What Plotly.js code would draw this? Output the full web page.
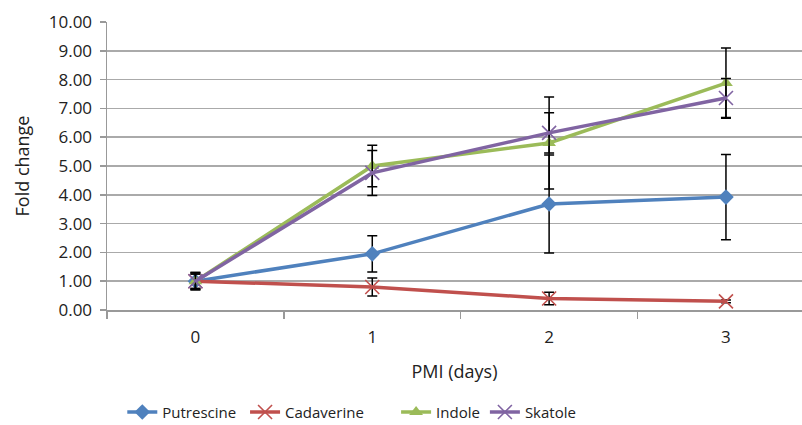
<!DOCTYPE html>
<html>
<head>
<meta charset="utf-8">
<script src="https://cdn.plot.ly/plotly-3.0.1.min.js"></script>
<style>html,body{margin:0;padding:0;background:#fff;}#chart{width:802px;height:425px;}</style>
</head>
<body>
<div id="chart"></div>
<script>
const days = ['0', '1', '2', '3'];
const putrescine = [1.0, 1.95, 3.68, 3.92];
const putrescineErr = [0.3, 0.63, 1.7, 1.48];
const cadaverine = [1.0, 0.8, 0.4, 0.3];
const cadaverineErr = [0.3, 0.31, 0.22, 0.05];
const indole = [1.0, 5.0, 5.8, 7.88];
const indoleErr = [0.25, 0.72, 1.6, 1.22];
const skatole = [1.0, 4.76, 6.15, 7.36];
const skatoleErr = [0.25, 0.78, 0.7, 0.68];
const yTicks = [0, 1, 2, 3, 4, 5, 6, 7, 8, 9, 10];
const names = ['Putrescine', 'Cadaverine', 'Indole', 'Skatole'];
const nbsp = '\u00A0';

function series(name, y, err, color, symbol, size, thin) {
  return {
    type: 'scatter', mode: 'lines+markers', name: name, x: days, y: y,
    line: {color: color, width: 3.5},
    marker: thin ? {symbol: symbol, size: size, color: color, line: {color: color, width: 1.6}}
                 : {symbol: symbol, size: size, color: color},
    error_y: {type: 'data', array: err, visible: true, color: '#000', thickness: 1.5, width: 5}
  };
}

const data = [
  series(names[0] + nbsp, putrescine, putrescineErr, '#4F81BD', 'diamond', 12, false),
  series(names[1] + nbsp.repeat(7), cadaverine, cadaverineErr, '#C0504D', 'x-thin-open', 14, true),
  series(names[2], indole, indoleErr, '#9BBB59', 'triangle-up', 12, false),
  series(names[3], skatole, skatoleErr, '#8064A2', 'x-thin-open', 14, true)
];

const layout = {
  width: 802, height: 425,
  margin: {l: 107, r: 0, t: 22, b: 115},
  paper_bgcolor: '#fff', plot_bgcolor: '#fff',
  font: {family: 'Open Sans, sans-serif', color: '#222'},
  showlegend: true,
  legend: {orientation: 'h', x: 0.022, xanchor: 'left', xref: 'paper',
           y: 0.03, yanchor: 'middle', yref: 'container',
           font: {size: 15, color: '#222'}, itemwidth: 30},
  xaxis: {
    type: 'category', range: [-0.5, 3.43], tickson: 'boundaries',
    showgrid: false, showline: true, linecolor: '#999', linewidth: 1.5,
    ticks: 'outside', ticklen: 7, tickcolor: '#999', tickwidth: 1.5,
    ticklabelstandoff: 11,
    tickfont: {size: 17, color: '#222'},
    title: {text: 'PMI (days)', font: {size: 18, color: '#222'}, standoff: 18},
    zeroline: false, fixedrange: true, automargin: false
  },
  yaxis: {
    range: [0, 10], tickvals: yTicks, ticktext: yTicks.map(v => v.toFixed(2)),
    showgrid: true, gridcolor: '#AAAAAA', gridwidth: 1.5,
    showline: true, linecolor: '#999', linewidth: 1.5,
    ticks: 'outside', ticklen: 6, tickcolor: '#999', tickwidth: 1.5,
    ticklabelstandoff: 4,
    tickfont: {size: 17, color: '#222'},
    title: {text: 'Fold change', font: {size: 18, color: '#222'}, standoff: 14},
    zeroline: false, fixedrange: true, automargin: false
  }
};

Plotly.newPlot('chart', data, layout, {displayModeBar: false, staticPlot: true});
</script>
</body>
</html>
